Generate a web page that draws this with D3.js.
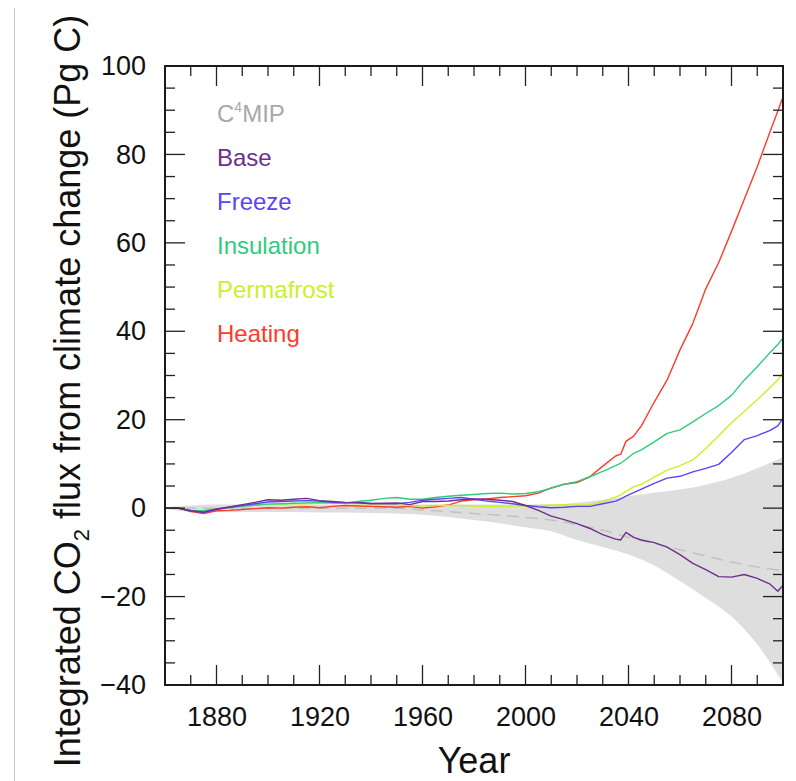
<!DOCTYPE html>
<html>
<head>
<meta charset="utf-8">
<script src="https://cdn.jsdelivr.net/npm/d3@7"></script>
<style>
  html, body { margin: 0; padding: 0; background: #fff; }
  svg { display: block; font-family: "Liberation Sans", Arial, Helvetica, sans-serif; }
</style>
</head>
<body>
<svg id="chart" width="796" height="781"></svg>
<script>
// Shared sample years for the model runs (Pg C, cumulative)
const years = [1860,1865,1870,1875,1880,1885,1890,1895,1900,1905,1910,1915,1920,1925,1930,1935,1940,1945,1950,1955,1960,1965,1970,1975,1980,1985,1990,1995,2000,2005,2010,2015,2020,2025,2030,2035,2037,2039,2042,2045,2050,2055,2060,2065,2070,2075,2080,2085,2090,2095,2098,2100];

const heating    = [0,0,-0.8,-1.2,-0.6,-0.5,-0.3,-0.1,0.1,0.0,0.2,0.3,0.1,0.4,0.6,0.5,0.4,0.3,0.2,0.4,0.0,0.3,0.7,1.6,1.9,2.1,2.4,2.6,2.8,3.4,4.6,5.4,5.8,7.1,9.5,11.8,12.2,15.1,16.3,18.6,24.0,29.0,35.8,41.8,49.6,55.5,62.6,69.9,77.2,85.2,89.8,93.0];
const insulation = [0,0,-0.5,-0.6,-0.2,0.1,0.4,0.7,0.9,1.0,1.1,1.2,1.3,1.2,1.2,1.5,1.8,2.2,2.4,2.0,2.0,2.4,2.7,2.9,3.1,3.3,3.4,3.2,3.3,3.7,4.5,5.4,6.0,7.1,8.3,9.6,10.2,11.0,12.4,13.2,15.0,16.9,17.7,19.5,21.4,23.2,25.5,29.0,32.0,35.2,37.0,38.5];
const permafrost = [0,0,-0.5,-0.7,-0.2,0.1,0.5,0.7,0.9,0.9,1.0,1.0,1.1,1.1,1.1,1.0,0.9,0.8,0.7,0.6,0.5,0.6,0.6,0.6,0.5,0.4,0.4,0.5,0.5,0.6,0.7,0.8,0.7,0.75,1.5,2.5,3.0,3.8,4.8,5.4,7.0,8.6,9.6,10.9,13.5,16.4,19.3,21.9,24.5,27.3,29.0,30.5];
const freeze     = [0,0,-0.6,-1.0,-0.3,0.2,0.6,1.0,1.4,1.5,1.6,1.7,1.6,1.3,1.2,1.3,1.1,1.0,1.0,1.3,1.8,2.0,2.2,2.4,2.0,1.6,1.3,1.0,0.6,0.3,0.1,0.2,0.4,0.4,1.0,1.6,2.1,2.7,3.5,4.3,5.6,6.8,7.2,8.2,9.0,9.9,12.6,15.5,16.4,17.6,18.6,20.3];
const base       = [0,0,-0.6,-0.9,-0.2,0.3,0.8,1.3,1.9,1.8,2.0,2.2,1.7,1.5,1.3,1.2,1.0,1.1,1.2,0.8,1.5,1.5,1.6,1.9,2.1,2.0,1.8,1.5,0.6,-0.5,-1.8,-2.6,-3.5,-4.6,-6.0,-7.0,-7.2,-5.5,-6.6,-7.2,-7.8,-8.8,-10.5,-12.5,-13.9,-15.5,-15.6,-15.0,-15.9,-17.2,-18.8,-17.4];

// C4MIP ensemble spread and mean
const c4Years = [1860,1870,1880,1890,1900,1910,1920,1930,1940,1950,1960,1970,1980,1990,2000,2010,2020,2030,2040,2050,2060,2070,2080,2090,2100];
const c4Upper = [0.2,0.6,0.8,0.8,0.8,0.8,0.8,0.8,0.8,0.8,0.8,0.8,0.8,0.8,0.8,0.8,1.2,1.9,2.7,3.5,4.2,5.3,6.8,9.0,11.5];
const c4Lower = [-0.2,-0.8,-0.9,-0.9,-0.9,-0.9,-1.0,-1.0,-1.1,-1.2,-1.5,-2.0,-2.7,-3.4,-4.3,-5.2,-7.2,-8.8,-10.5,-13.0,-16.5,-20.3,-24.5,-30.8,-39.5];
const c4Mean  = [0,0,0,0,0,0,0,0,0,0,-0.4,-0.8,-1.2,-1.6,-2.1,-2.7,-3.7,-5.0,-6.6,-8.0,-9.4,-10.8,-12.2,-13.3,-14.2];

const seriesNames  = ["Base","Freeze","Insulation","Permafrost","Heating"];
const seriesValues = [base, freeze, insulation, permafrost, heating];
const seriesColors = ["#6e2f8e","#5a44f6","#2fcc7c","#c9f226","#ff3b2b"];

const xTickLabels = [1880,1920,1960,2000,2040,2080];
const yTickLabels = [-40,-20,0,20,40,60,80,100];

const svg = d3.select("#chart");
const plotLeft = 165, plotRight = 783, plotTop = 66, plotBottom = 685;

const x = d3.scaleLinear().domain([1860, 2100]).range([plotLeft, plotRight]);
const y = d3.scaleLinear().domain([-40, 100]).range([plotBottom, plotTop]);

// thin page rule on the far left
svg.append("line")
  .attr("x1", 14.5).attr("x2", 14.5).attr("y1", 8).attr("y2", 781)
  .attr("stroke", "#c6c6c6").attr("stroke-width", 1);

// C4MIP spread
const band = c4Years.map((yr, i) => ({yr, lo: c4Lower[i], hi: c4Upper[i], m: c4Mean[i]}));
svg.append("path")
  .datum(band)
  .attr("fill", "#dedede")
  .attr("d", d3.area().x(d => x(d.yr)).y0(d => y(d.lo)).y1(d => y(d.hi)).curve(d3.curveMonotoneX));

svg.append("path")
  .datum(band)
  .attr("fill", "none")
  .attr("stroke", "#c2c2c2")
  .attr("stroke-width", 1.5)
  .attr("stroke-dasharray", "12,7")
  .attr("d", d3.line().x(d => x(d.yr)).y(d => y(d.m)).curve(d3.curveMonotoneX));

// model runs, drawn back to front
const drawOrder = [4, 3, 2, 1, 0];
const runLine = d3.line().x(d => x(d[0])).y(d => y(d[1]));
drawOrder.forEach(k => {
  svg.append("path")
    .datum(years.map((yr, i) => [yr, seriesValues[k][i]]))
    .attr("fill", "none")
    .attr("stroke", seriesColors[k])
    .attr("stroke-width", 1.4)
    .attr("stroke-linejoin", "round")
    .attr("d", runLine);
});

// inward ticks on all four sides
const tickColor = "#222";
const majorLen = 20, minorLen = 10;
d3.range(1870, 2100, 10).forEach(v => {
  const len = xTickLabels.includes(v) ? majorLen : minorLen;
  svg.append("line").attr("x1", x(v)).attr("x2", x(v)).attr("y1", plotBottom).attr("y2", plotBottom - len)
    .attr("stroke", tickColor).attr("stroke-width", 1.3);
  svg.append("line").attr("x1", x(v)).attr("x2", x(v)).attr("y1", plotTop).attr("y2", plotTop + len)
    .attr("stroke", tickColor).attr("stroke-width", 1.3);
});
d3.range(-35, 100, 5).forEach(v => {
  const len = yTickLabels.includes(v) ? majorLen : minorLen;
  svg.append("line").attr("x1", plotLeft).attr("x2", plotLeft + len).attr("y1", y(v)).attr("y2", y(v))
    .attr("stroke", tickColor).attr("stroke-width", 1.3);
  svg.append("line").attr("x1", plotRight).attr("x2", plotRight - len).attr("y1", y(v)).attr("y2", y(v))
    .attr("stroke", tickColor).attr("stroke-width", 1.3);
});

// frame
svg.append("rect")
  .attr("x", plotLeft).attr("y", plotTop).attr("width", plotRight - plotLeft).attr("height", plotBottom - plotTop)
  .attr("fill", "none").attr("stroke", "#1a1a1a").attr("stroke-width", 2);

// tick labels via axis generators, with the axis lines hidden
const xAxis = svg.append("g").attr("transform", `translate(0,${plotBottom})`)
  .call(d3.axisBottom(x).tickValues(xTickLabels).tickSize(0).tickPadding(22).tickFormat(d3.format("d")));
xAxis.select(".domain").remove();
xAxis.selectAll("text").attr("font-size", 27).attr("fill", "#111")
  .attr("font-family", "'Liberation Sans', Arial, Helvetica, sans-serif");

const yAxis = svg.append("g").attr("transform", `translate(${plotLeft},0)`)
  .call(d3.axisLeft(y).tickValues(yTickLabels).tickSize(0).tickPadding(19).tickFormat(d3.format("d")));
yAxis.select(".domain").remove();
yAxis.selectAll("text").attr("font-size", 27).attr("fill", "#111")
  .attr("font-family", "'Liberation Sans', Arial, Helvetica, sans-serif");

// axis titles
svg.append("text")
  .attr("x", (plotLeft + plotRight) / 2).attr("y", 773)
  .attr("text-anchor", "middle").attr("font-size", 36).attr("fill", "#111")
  .text("Year");

const yt = svg.append("text")
  .attr("transform", "translate(80,391) rotate(-90)")
  .attr("text-anchor", "middle").attr("font-size", 36).attr("fill", "#111");
yt.append("tspan").text("Integrated CO");
yt.append("tspan").attr("font-size", 22).attr("dy", 9).text("2");
yt.append("tspan").attr("dy", -9).text(" flux from climate change (Pg C)");

// legend
const legX = 217, legY0 = 122, legStep = 44;
const c4 = svg.append("text").attr("x", legX).attr("y", legY0).attr("font-size", 24).attr("fill", "#a8a8a8");
c4.append("tspan").text("C");
c4.append("tspan").attr("font-size", 14).attr("dy", -10).text("4");
c4.append("tspan").attr("dy", 10).text("MIP");
seriesNames.forEach((name, i) => {
  svg.append("text")
    .attr("x", legX).attr("y", legY0 + legStep * (i + 1))
    .attr("font-size", 24).attr("fill", seriesColors[i])
    .text(name);
});
</script>
</body>
</html>
